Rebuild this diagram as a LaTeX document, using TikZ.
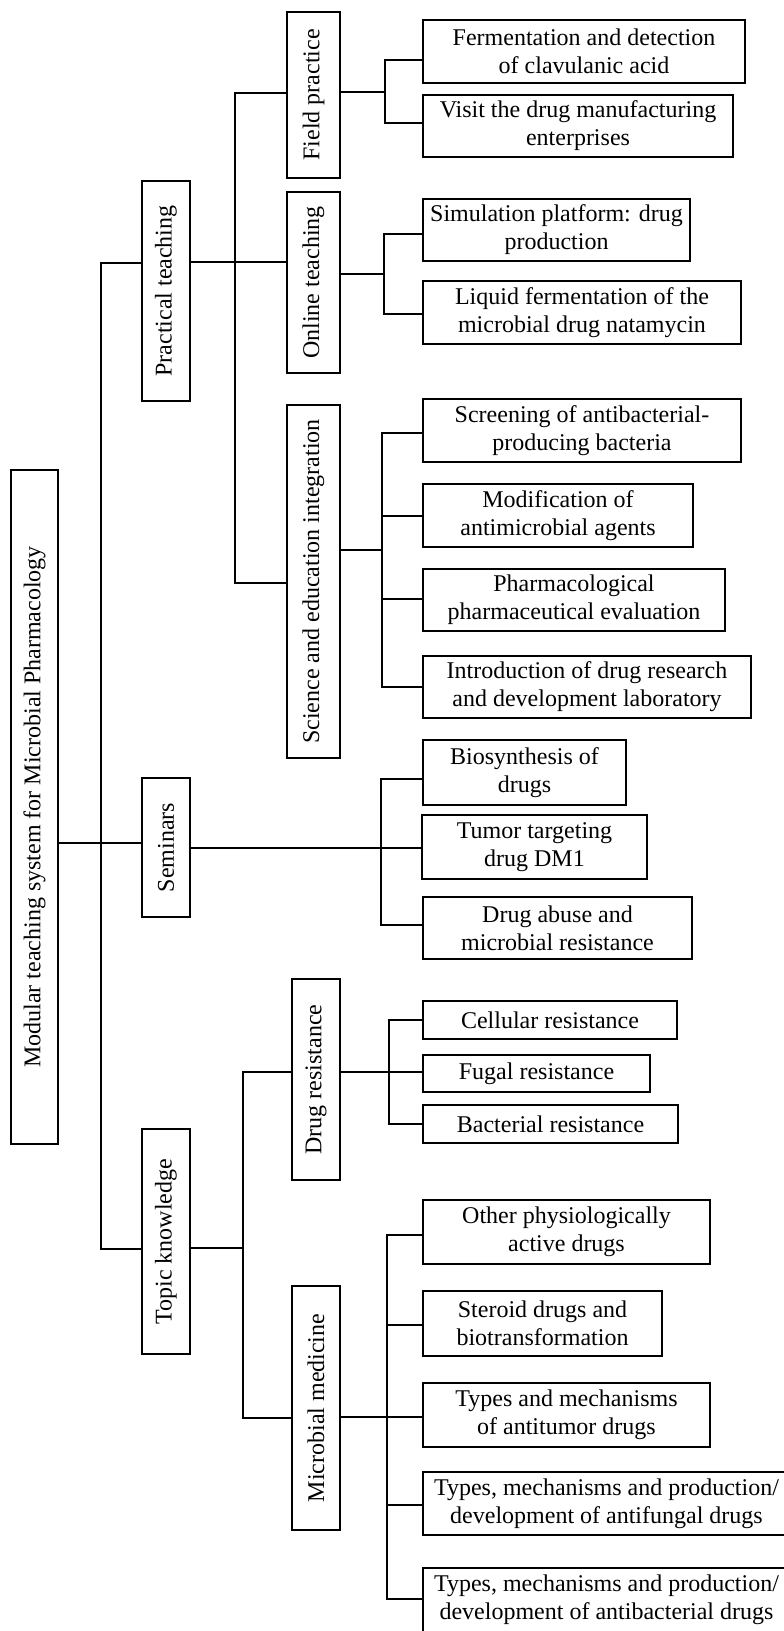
\documentclass[tikz,border=0pt]{standalone}
\usepackage{fontspec}
\setmainfont{Liberation Serif}
\begin{document}
\begin{tikzpicture}[x=1pt,y=-1pt]
\tikzset{
  box/.style={draw, line width=1.3pt, inner sep=0pt, align=center, font=\fontsize{24}{28}\selectfont},
  vbox/.style={box, rotate=90},
  link/.style={line width=1.2pt}
}
\clip (0,0) rectangle (784,1631);
% root and level 1
\node[vbox, minimum width=674pt, minimum height=47pt] (root) at (34.5,807) {Modular teaching system for Microbial Pharmacology};
\node[vbox, minimum width=220pt, minimum height=48pt] (pt) at (166,291) {Practical teaching};
\node[vbox, minimum width=139pt, minimum height=48pt] (sem) at (166,847.5) {Seminars};
\node[vbox, minimum width=225pt, minimum height=48pt] (tk) at (166,1241.5) {Topic knowledge};
% level 2
\node[vbox, minimum width=166pt, minimum height=53pt] (fp) at (313.5,95) {Field practice};
\node[vbox, minimum width=181pt, minimum height=53pt] (ot) at (313.5,282.5) {Online teaching};
\node[vbox, minimum width=353pt, minimum height=53pt] (sei) at (313.5,581.5) {Science and education integration};
\node[vbox, minimum width=201pt, minimum height=48pt] (dr) at (316,1079.5) {Drug resistance};
\node[vbox, minimum width=244pt, minimum height=48pt] (mm) at (316,1408) {Microbial medicine};
% level 3
\node[box, minimum width=322pt, minimum height=63pt] (ferm) at (584,51.5) {Fermentation and detection\\of clavulanic acid};
\node[box, minimum width=310pt, minimum height=62pt] (visit) at (578,126) {Visit the drug manufacturing\\enterprises};
\node[box, minimum width=267pt, minimum height=62pt] (sim) at (556.5,230) {Simulation platform: drug\\production};
\node[box, minimum width=318pt, minimum height=63pt] (liquid) at (582,312.5) {Liquid fermentation of the\\microbial drug natamycin};
\node[box, minimum width=318pt, minimum height=63pt] (screen) at (582,430.5) {Screening of antibacterial-\\producing bacteria};
\node[box, minimum width=270pt, minimum height=63pt] (modif) at (558,515.5) {Modification of\\antimicrobial agents};
\node[box, minimum width=302pt, minimum height=62pt] (pharm) at (574,600) {Pharmacological\\pharmaceutical evaluation};
\node[box, minimum width=328pt, minimum height=62pt] (intro) at (587,687) {Introduction of drug research\\and development laboratory};
\node[box, minimum width=203pt, minimum height=65pt] (bio) at (524.5,772.5) {Biosynthesis of\\drugs};
\node[box, minimum width=225pt, minimum height=64pt] (tumor) at (534.5,847) {Tumor targeting\\drug DM1};
\node[box, minimum width=269pt, minimum height=62pt] (abuse) at (557.5,928) {Drug abuse and\\microbial resistance};
\node[box, minimum width=254pt, minimum height=38pt] (cell) at (550,1020) {Cellular resistance};
\node[box, minimum width=227pt, minimum height=37pt] (fugal) at (536.5,1073.5) {Fugal resistance};
\node[box, minimum width=255pt, minimum height=38pt] (bact) at (550.5,1124) {Bacterial resistance};
\node[box, minimum width=287pt, minimum height=64pt] (other) at (566.5,1232) {Other physiologically\\active drugs};
\node[box, minimum width=239pt, minimum height=65pt] (steroid) at (542.5,1323.5) {Steroid drugs and\\biotransformation};
\node[box, minimum width=287pt, minimum height=64pt] (antitumor) at (566.5,1415) {Types and mechanisms\\of antitumor drugs};
\node[box, minimum width=367pt, minimum height=63pt] (antifungal) at (606.5,1503.5) {Types, mechanisms and production/\\development of antifungal drugs};
\node[box, minimum width=367pt, minimum height=64pt] (antibact) at (606.5,1600) {Types, mechanisms and production/\\development of antibacterial drugs};
% junction coordinates
\coordinate (r0) at (101,263); \coordinate (r1) at (101,1249); \coordinate (rj) at (101,843);
\coordinate (p0) at (235,93); \coordinate (p1) at (235,583); \coordinate (pj) at (235,262);
\coordinate (f0) at (385,60); \coordinate (f1) at (385,123); \coordinate (fj) at (385,92);
\coordinate (o0) at (384,234); \coordinate (o1) at (384,314); \coordinate (oj) at (384,274);
\coordinate (s0) at (382,433); \coordinate (s1) at (382,687); \coordinate (sj) at (382,550);
\coordinate (s2) at (382,516); \coordinate (s3) at (382,599);
\coordinate (m0) at (381,779); \coordinate (m1) at (381,925); \coordinate (mj) at (381,848);
\coordinate (t0) at (243,1072); \coordinate (t1) at (243,1418); \coordinate (tj) at (243,1248);
\coordinate (d0) at (389,1020); \coordinate (d1) at (389,1124); \coordinate (dj) at (389,1072);
\coordinate (q0) at (387,1235); \coordinate (q1) at (387,1599); \coordinate (qj) at (387,1417);
\coordinate (q2) at (387,1325); \coordinate (q3) at (387,1505);
% root
\draw[link] (root.south |- rj) -- (sem.north |- rj);
\draw[link] (pt.north |- r0) -- (r0) -- (r1) -- (tk.north |- r1);
% practical teaching
\draw[link] (pt.south |- pj) -- (ot.north |- pj);
\draw[link] (fp.north |- p0) -- (p0) -- (p1) -- (sei.north |- p1);
% field practice
\draw[link] (fp.south |- fj) -- (fj);
\draw[link] (ferm.west |- f0) -- (f0) -- (f1) -- (visit.west |- f1);
% online teaching
\draw[link] (ot.south |- oj) -- (oj);
\draw[link] (sim.west |- o0) -- (o0) -- (o1) -- (liquid.west |- o1);
% science and education integration
\draw[link] (sei.south |- sj) -- (sj);
\draw[link] (screen.west |- s0) -- (s0) -- (s1) -- (intro.west |- s1);
\draw[link] (s2) -- (modif.west |- s2);
\draw[link] (s3) -- (pharm.west |- s3);
% seminars
\draw[link] (sem.south |- mj) -- (tumor.west |- mj);
\draw[link] (bio.west |- m0) -- (m0) -- (m1) -- (abuse.west |- m1);
% topic knowledge
\draw[link] (tk.south |- tj) -- (tj);
\draw[link] (dr.north |- t0) -- (t0) -- (t1) -- (mm.north |- t1);
% drug resistance
\draw[link] (dr.south |- dj) -- (fugal.west |- dj);
\draw[link] (cell.west |- d0) -- (d0) -- (d1) -- (bact.west |- d1);
% microbial medicine
\draw[link] (mm.south |- qj) -- (antitumor.west |- qj);
\draw[link] (other.west |- q0) -- (q0) -- (q1) -- (antibact.west |- q1);
\draw[link] (q2) -- (steroid.west |- q2);
\draw[link] (q3) -- (antifungal.west |- q3);
\end{tikzpicture}
\end{document}
